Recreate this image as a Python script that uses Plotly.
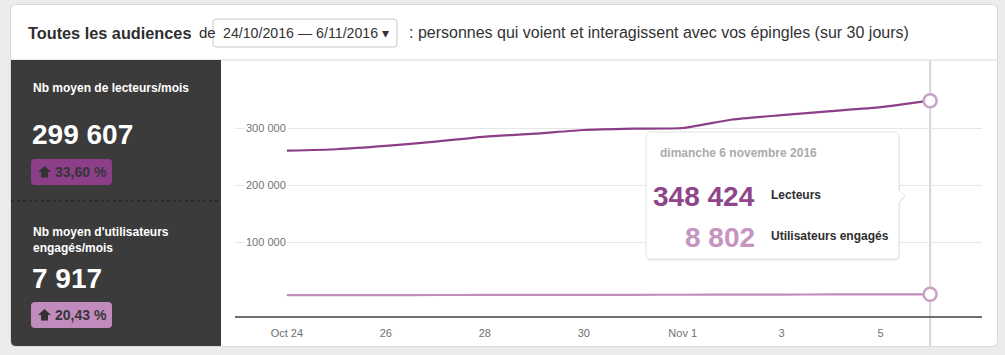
import datetime as dt
import plotly.graph_objects as go

# ---------------- data ----------------
dates = ["2016-10-24", "2016-10-25", "2016-10-26", "2016-10-27", "2016-10-28",
         "2016-10-29", "2016-10-30", "2016-10-31", "2016-11-01", "2016-11-02",
         "2016-11-03", "2016-11-04", "2016-11-05", "2016-11-06"]
lecteurs = [260700, 263200, 269000, 276500, 285500, 290500, 297000, 299300,
            300500, 315400, 323000, 330000, 337000, 348424]
engages = [7250, 7300, 7400, 7500, 7600, 7700, 7800, 7900, 8000, 8150,
           8350, 8500, 8650, 8802]
y_tick_vals = [100000, 200000, 300000]
y_tick_text = ["100 000", "200 000", "300 000"]
x_tick_vals = ["2016-10-24", "2016-10-26", "2016-10-28", "2016-10-30",
               "2016-11-01", "2016-11-03", "2016-11-05"]
x_tick_text = ["Oct 24", "26", "28", "30", "Nov 1", "3", "5"]
series_names = ["Lecteurs", "Utilisateurs engagés"]
panel_titles = ["Nb moyen de lecteurs/mois", "Nb moyen d'utilisateurs<br>engagés/mois"]
panel_values = ["299 607", "7 917"]
panel_growth = ["33,60 %", "20,43 %"]
period_text = "24/10/2016 — 6/11/2016 ▾"

# ---------------- styles ----------------
W, H = 1005, 355
C_LECT = "#8c3e89"
C_ENG = "#c08dbd"
C_PANEL = "#3b3b3b"
FONT = "Liberation Sans, Arial, sans-serif"


def px(x):
    return x / W


def py(y):
    return 1 - y / H


def fmt(v):
    return f"{v:,}".replace(",", " ")


def P(x, y):
    return f"{px(x):.5f},{py(y):.5f}"


def rrect(x0, y0, x1, y1, r, tl=True, tr=True, br=True, bl=True):
    s = f"M {P(x0 + (r if tl else 0), y0)} L {P(x1 - (r if tr else 0), y0)} "
    if tr:
        s += f"Q {P(x1, y0)} {P(x1, y0 + r)} "
    s += f"L {P(x1, y1 - (r if br else 0))} "
    if br:
        s += f"Q {P(x1, y1)} {P(x1 - r, y1)} "
    s += f"L {P(x0 + (r if bl else 0), y1)} "
    if bl:
        s += f"Q {P(x0, y1)} {P(x0, y1 - r)} "
    s += f"L {P(x0, y0 + (r if tl else 0))} "
    if tl:
        s += f"Q {P(x0, y0)} {P(x0 + r, y0)} "
    return s + "Z"


def tooltip_path(x0, y0, x1, y1, r, ay, aw):
    s = f"M {P(x0 + r, y0)} L {P(x1 - r, y0)} Q {P(x1, y0)} {P(x1, y0 + r)} "
    s += f"L {P(x1, ay - aw)} L {P(x1 + aw, ay)} L {P(x1, ay + aw)} "
    s += f"L {P(x1, y1 - r)} Q {P(x1, y1)} {P(x1 - r, y1)} "
    s += f"L {P(x0 + r, y1)} Q {P(x0, y1)} {P(x0, y1 - r)} "
    s += f"L {P(x0, y0 + r)} Q {P(x0, y0)} {P(x0 + r, y0)} Z"
    return s


def up_arrow(cx, top):
    # small "house" shaped up arrow icon
    return (f"M {P(cx, top)} L {P(cx + 6.5, top + 6)} L {P(cx + 3.5, top + 6)} "
            f"L {P(cx + 3.5, top + 11.5)} L {P(cx - 3.5, top + 11.5)} "
            f"L {P(cx - 3.5, top + 6)} L {P(cx - 6.5, top + 6)} Z")


fig = go.Figure()
fig.add_trace(go.Scatter(x=dates, y=engages, mode="lines", name=series_names[1],
                         line=dict(color=C_ENG, width=2.2, shape="spline", smoothing=0.5),
                         hoverinfo="skip"))
fig.add_trace(go.Scatter(x=dates, y=lecteurs, mode="lines", name=series_names[0],
                         line=dict(color=C_LECT, width=2.2, shape="spline", smoothing=0.5),
                         hoverinfo="skip"))
fig.add_trace(go.Scatter(x=[dates[-1], dates[-1]], y=[lecteurs[-1], engages[-1]],
                         mode="markers", hoverinfo="skip",
                         marker=dict(symbol="circle", size=13, color="white",
                                     line=dict(color="#c7a2c4", width=2.5))))

shapes = []
annotations = []

# card
shapes.append(dict(type="path", xref="paper", yref="paper", layer="below",
                   path=rrect(10, 4, 998, 347, 6), fillcolor="#d9d9d9", line=dict(width=0)))
shapes.append(dict(type="path", xref="paper", yref="paper", layer="below",
                   path=rrect(11, 5, 997, 346, 5), fillcolor="white", line=dict(width=0)))
# header separator
shapes.append(dict(type="line", xref="paper", yref="paper", layer="below",
                   x0=px(11), x1=px(997), y0=py(60), y1=py(60),
                   line=dict(color="#d6d6d6", width=1)))
# dark left panel
shapes.append(dict(type="path", xref="paper", yref="paper", layer="below",
                   path=rrect(11, 60, 221, 346, 5, tl=False, tr=False, br=False),
                   fillcolor=C_PANEL, line=dict(width=0)))
shapes.append(dict(type="line", xref="paper", yref="paper", layer="below",
                   x0=px(11), x1=px(221), y0=py(201), y1=py(201),
                   line=dict(color="#262626", width=1.5, dash="dot")))
# dropdown box
shapes.append(dict(type="path", xref="paper", yref="paper", layer="below",
                   path=rrect(213, 19, 397, 47, 3), fillcolor="white",
                   line=dict(color="#c8c8c8", width=1)))
# hover vertical line
shapes.append(dict(type="line", xref="x", yref="paper", layer="below",
                   x0=dates[-1], x1=dates[-1], y0=py(346), y1=py(60),
                   line=dict(color="#ddd2dc", width=2)))
# tooltip
shapes.append(dict(type="path", xref="paper", yref="paper", layer="above",
                   path=tooltip_path(647, 134, 900, 261, 5, 197, 6),
                   fillcolor="rgba(0,0,0,0.06)", line=dict(width=0)))
shapes.append(dict(type="path", xref="paper", yref="paper", layer="above",
                   path=tooltip_path(646, 132, 899, 259, 5, 196, 6),
                   fillcolor="white", line=dict(color="#e2e2e2", width=1)))

# badges
badge_colors = [C_LECT, "#c18bbe"]
badge_y = [159, 302]
for i in range(2):
    shapes.append(dict(type="path", xref="paper", yref="paper", layer="above",
                       path=rrect(31, badge_y[i], 112, badge_y[i] + 26, 4),
                       fillcolor=badge_colors[i], line=dict(width=0)))
    shapes.append(dict(type="path", xref="paper", yref="paper", layer="above",
                       path=up_arrow(44.5, badge_y[i] + 7), fillcolor="#333333",
                       line=dict(width=0)))


def ann(x, y, text, size, color, xanchor="left", bold=False, **kw):
    if bold:
        text = f"<b>{text}</b>"
    annotations.append(dict(x=px(x), y=py(y), xref="paper", yref="paper",
                            text=text, showarrow=False, xanchor=xanchor, yanchor="middle",
                            font=dict(family=FONT, size=size, color=color), **kw))


# header
ann(26, 33, "<b>Toutes les audiences</b>", 16.3, "#2e2e2e")
ann(197, 33, "de", 15, "#2e2e2e")
ann(221, 33, period_text, 14.2, "#333")
ann(407, 33, ": personnes qui voient et interagissent avec vos épingles (sur 30 jours)",
    16, "#333")

# left panel
ann(31, 88, panel_titles[0], 12, "white", bold=True)
ann(30, 135, panel_values[0], 28, "white", bold=True)
ann(53, 172, panel_growth[0], 14, "#363636", bold=True)
annotations.append(dict(x=px(31), y=py(239.5), xref="paper", yref="paper",
                        text="<b>" + panel_titles[1] + "</b>", showarrow=False,
                        xanchor="left", yanchor="middle", align="left",
                        font=dict(family=FONT, size=12, color="white")))
ann(30, 278, panel_values[1], 28, "white", bold=True)
ann(53, 315, panel_growth[1], 14, "#363636", bold=True)

# y tick labels (inside plot, on white background)
for v, t in zip(y_tick_vals, y_tick_text):
    annotations.append(dict(x=px(265.5), y=v, xref="paper", yref="y", text=t,
                            showarrow=False, xanchor="center", yanchor="middle",
                            bgcolor="white", borderpad=1,
                            font=dict(family=FONT, size=11, color="#747474")))

# tooltip content
jours = ["lundi", "mardi", "mercredi", "jeudi", "vendredi", "samedi", "dimanche"]
mois = ["janvier", "février", "mars", "avril", "mai", "juin", "juillet", "août",
        "septembre", "octobre", "novembre", "décembre"]
d = dt.date.fromisoformat(dates[-1])
date_label = f"{jours[d.weekday()]} {d.day} {mois[d.month - 1]} {d.year}"
ann(658, 153, date_label, 12, "#ababab", bold=True)
ann(757, 196, fmt(lecteurs[-1]), 28, "#8e4589", xanchor="right", bold=True)
ann(769, 195, series_names[0], 12, "#2e2e2e", bold=True)
ann(757, 237, fmt(engages[-1]), 28, "#c594c0", xanchor="right", bold=True)
ann(769, 236, series_names[1], 12, "#2e2e2e", bold=True)

fig.update_layout(
    width=W, height=H,
    margin=dict(l=0, r=0, t=0, b=0),
    paper_bgcolor="#ececec",
    plot_bgcolor="rgba(0,0,0,0)",
    showlegend=False,
    hovermode=False,
    shapes=shapes,
    annotations=annotations,
    font=dict(family=FONT),
    xaxis=dict(domain=[px(235), px(982)], type="date",
               range=["2016-10-22 22:50", "2016-11-07 01:10"],
               showgrid=False, zeroline=False,
               showline=True, linecolor="#6f6f6f", linewidth=2,
               tickvals=x_tick_vals, ticktext=x_tick_text,
               ticks="outside", ticklen=6, tickcolor="rgba(0,0,0,0)",
               tickfont=dict(family=FONT, size=11, color="#6f6f6f")),
    yaxis=dict(domain=[py(316), py(60)], range=[-29300, 419800],
               tickvals=y_tick_vals, showticklabels=False,
               showgrid=True, gridcolor="#e6e6e6", gridwidth=1,
               zeroline=False, showline=False, ticks=""),
)

fig.write_html("out.html",
               config={"displayModeBar": False},
               post_script="document.body.style.margin='0';"
                           "document.body.style.padding='0';"
                           "document.body.style.background='#ececec';")
